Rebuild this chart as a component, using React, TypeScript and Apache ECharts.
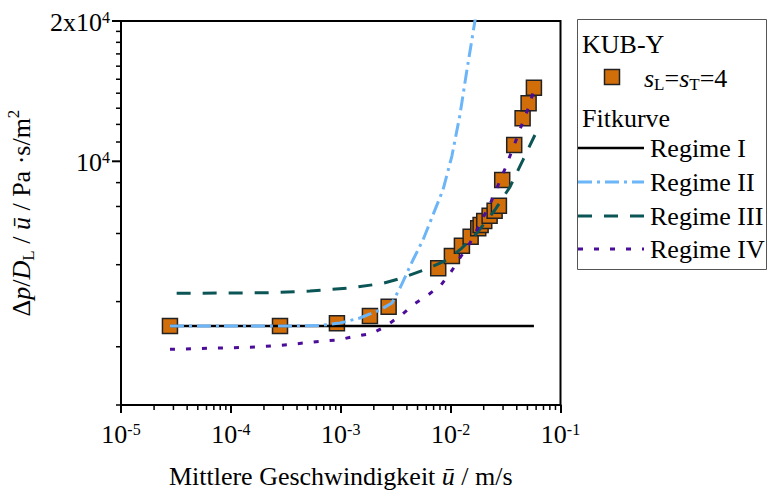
import React, { useEffect, useRef } from "react";
import * as echarts from "echarts";

const FONT = "Liberation Serif, Times New Roman, serif";

// Axis ranges
const X_MIN = 1e-5;
const X_MAX = 1e-1;
const Y_MIN = 3000;
const Y_MAX = 20000;

// Measured data: KUB-Y, sL = sT = 4
const velocity = [
  2.79e-5, 2.8e-4, 9.23e-4, 1.843e-3, 2.728e-3, 7.71e-3, 0.01027, 0.01267,
  0.01521, 0.01783, 0.01875, 0.02022, 0.02264, 0.02514, 0.02751, 0.02948,
  0.03791, 0.04519, 0.05126, 0.05728,
];
const pressure = [
  4431, 4431, 4492, 4656, 4875, 5893, 6262, 6590, 6890, 7182, 7299, 7445,
  7642, 7833, 8028, 9116, 10836, 12367, 13318, 14384,
];

// Fit curves
const regime1X = [2.79e-5, 0.0573];
const regime1Y = [4431, 4431];

const regime2X = [
  2.79e-5, 2.797e-4, 6.465e-4, 9.83e-4, 1.495e-3, 2.273e-3, 2.923e-3,
  3.457e-3, 4.54e-3, 5.6e-3, 6.9e-3, 8.51e-3, 0.01027, 0.01215, 0.01407,
  0.01664, 0.0175,
];
const regime2Y = [
  4431, 4431, 4441, 4497, 4611, 4796, 4965, 5346, 6140, 6776, 7668, 8677,
  10264, 12570, 15700, 20000, 21500,
];

const regime3X = [
  3.21e-5, 2.117e-4, 5.245e-4, 1.213e-3, 2.421e-3, 3.457e-3, 6.085e-3,
  9.25e-3, 0.01267, 0.01735, 0.0253, 0.03464, 0.04548, 0.0585,
];
const regime3Y = [
  5209, 5224, 5267, 5346, 5472, 5603, 5873, 6140, 6514, 7018, 7860, 8808,
  10062, 11388,
];

const regime4X = [
  2.79e-5, 1.657e-4, 3.308e-4, 6.74e-4, 9.43e-4, 1.291e-3, 1.923e-3,
  2.525e-3, 3.604e-3, 4.54e-3, 6.214e-3, 8.16e-3, 0.01006, 0.01215, 0.01498,
  0.01967, 0.02375, 0.03119, 0.04011, 0.04548, 0.0516, 0.05728,
];
const regime4Y = [
  3950, 3994, 4041, 4115, 4136, 4203, 4274, 4416, 4690, 4917, 5164, 5426,
  5786, 6201, 6676, 7556, 8259, 9625, 11220, 12160, 13097, 14220,
];

// Ticks
const xDecades = [1e-5, 1e-4, 1e-3, 1e-2];
const minorSteps = [2, 3, 4, 5, 6, 7, 8, 9];
const yMinorTicks = [
  3000, 4000, 5000, 6000, 7000, 8000, 9000, 11000, 12000, 13000, 14000,
  15000, 16000, 17000, 18000, 19000,
];
const yMajorTicks = [10000, 20000];
const yMajorLabels = ["{b|10}{s|4}", "{b|2x10}{s|4}"];

// Legend texts
const legendGroup1 = "KUB-Y";
const legendSeries = "{i|s}{sub|L}{n|=}{i|s}{sub|T}{n|=4}";
const legendGroup2 = "Fitkurve";
const regimeNames = ["Regime I", "Regime II", "Regime III", "Regime IV"];

const C_MARK = "#d26e0a";
const C_R1 = "#000000";
const C_R2 = "#6bb5f8";
const C_R3 = "#0b5556";
const C_R4 = "#4b0c9a";

const DASH_R2 = [14, 5, 3, 5];
const DASH_R3 = [14, 12];
const DASH_R4 = [5, 11];

const zip = (xs: number[], ys: number[]) => xs.map((x, i) => [x, ys[i]]);

const richTick = {
  b: { fontFamily: FONT, fontSize: 26, lineHeight: 26, color: "#000" },
  s: {
    fontFamily: FONT,
    fontSize: 16,
    lineHeight: 19,
    verticalAlign: "top",
    color: "#000",
  },
};

const richName = {
  n: { fontFamily: FONT, fontSize: 26, lineHeight: 32, color: "#000" },
  i: {
    fontFamily: FONT,
    fontSize: 26,
    lineHeight: 32,
    fontStyle: "italic",
    color: "#000",
  },
  sub: {
    fontFamily: FONT,
    fontSize: 17,
    lineHeight: 17,
    verticalAlign: "bottom",
    color: "#000",
  },
  sup: {
    fontFamily: FONT,
    fontSize: 17,
    lineHeight: 17,
    verticalAlign: "top",
    color: "#000",
  },
};

export default function App() {
  const ref = useRef<HTMLDivElement>(null);

  useEffect(() => {
    if (!ref.current) return;
    const chart = echarts.init(ref.current, null, { renderer: "svg" });

    const xMinorTicks = xDecades.flatMap((d) =>
      minorSteps.map((m) => +(m * d).toPrecision(3))
    );

    const lineSeries = (
      name: string,
      xs: number[],
      ys: number[],
      color: string,
      dash: any,
      width: number
    ) => ({
      type: "line",
      name,
      data: zip(xs, ys),
      showSymbol: false,
      symbol: "none",
      smooth: false,
      clip: true,
      lineStyle: { color, width, type: dash, cap: "butt" },
      z: 3,
    });

    const legendX = 577;
    const legendLineY = [148, 182, 216, 249];
    const legendColors = [C_R1, C_R2, C_R3, C_R4];
    const legendDash = [null, DASH_R2, DASH_R3, DASH_R4];
    const legendWidths = [2.5, 3, 3, 3];

    const graphic: any[] = [
      {
        type: "rect",
        shape: { x: 577.5, y: 19.5, width: 189, height: 250 },
        style: { fill: "#fff", stroke: "#555", lineWidth: 1 },
        z: 10,
      },
      {
        type: "text",
        x: 582,
        y: 44,
        style: {
          text: legendGroup1,
          fontFamily: FONT,
          fontSize: 26,
          fill: "#000",
          verticalAlign: "middle",
        },
        z: 11,
      },
      {
        type: "rect",
        shape: { x: 604.5, y: 69.5, width: 15, height: 15 },
        style: { fill: C_MARK, stroke: "#222", lineWidth: 1.5 },
        z: 11,
      },
      {
        type: "text",
        x: 644,
        y: 78,
        style: {
          text: legendSeries,
          fontFamily: FONT,
          fontSize: 26,
          fill: "#000",
          verticalAlign: "middle",
          rich: {
            n: { fontFamily: FONT, fontSize: 26, lineHeight: 30 },
            i: {
              fontFamily: FONT,
              fontSize: 26,
              lineHeight: 30,
              fontStyle: "italic",
            },
            sub: {
              fontFamily: FONT,
              fontSize: 17,
              lineHeight: 17,
              verticalAlign: "bottom",
            },
          },
        },
        z: 11,
      },
      {
        type: "text",
        x: 582,
        y: 118,
        style: {
          text: legendGroup2,
          fontFamily: FONT,
          fontSize: 26,
          fill: "#000",
          verticalAlign: "middle",
        },
        z: 11,
      },
    ];
    regimeNames.forEach((nm, k) => {
      graphic.push({
        type: "line",
        shape: {
          x1: legendX + 1,
          y1: legendLineY[k],
          x2: 644,
          y2: legendLineY[k],
        },
        style: {
          stroke: legendColors[k],
          lineWidth: legendWidths[k],
          lineDash: legendDash[k] || undefined,
        },
        z: 11,
      });
      graphic.push({
        type: "text",
        x: 650,
        y: legendLineY[k],
        style: {
          text: nm,
          fontFamily: FONT,
          fontSize: 26,
          fill: "#000",
          verticalAlign: "middle",
        },
        z: 11,
      });
    });

    const option: any = {
      animation: false,
      backgroundColor: "#ffffff",
      textStyle: { fontFamily: FONT },
      grid: {
        left: 121,
        top: 21,
        right: 208.5,
        bottom: 85,
        show: true,
        borderColor: "#000",
        borderWidth: 2,
        backgroundColor: "transparent",
        containLabel: false,
        outerBoundsMode: "none",
      },
      xAxis: {
        type: "log",
        logBase: 10,
        min: X_MIN,
        max: X_MAX,
        name: "{n|Mittlere Geschwindigkeit }{i|ū}{n| / m/s}",
        nameLocation: "middle",
        nameGap: 55,
        nameTextStyle: { fontFamily: FONT, fontSize: 26, color: "#000", rich: richName },
        axisLine: { show: true, lineStyle: { color: "#000", width: 2 } },
        axisTick: { show: true, inside: false, length: 8, lineStyle: { color: "#000", width: 2 } },
        minorTick: { show: false },
        splitLine: { show: false },
        axisLabel: {
          margin: 16,
          color: "#000",
          fontFamily: FONT,
          fontSize: 26,
          formatter: (v: number) => `{b|10}{s|${Math.round(Math.log10(v))}}`,
          rich: richTick,
        },
      },
      yAxis: {
        type: "log",
        logBase: 10,
        min: Y_MIN,
        max: Y_MAX,
        name: "{n|Δ}{i|p}{n|/}{i|D}{sub|L}{n| / }{i|ū}{n| / Pa ·s/m}{sup|2}",
        nameLocation: "middle",
        nameRotate: 90,
        nameGap: 84,
        nameTextStyle: { fontFamily: FONT, fontSize: 26, color: "#000", rich: richName },
        axisLine: { show: true, lineStyle: { color: "#000", width: 2 } },
        axisTick: { show: false },
        axisLabel: { show: false },
        splitLine: { show: false },
        minorTick: { show: false },
      },
      graphic,
      series: [
        {
          type: "scatter",
          name: "KUB-Y",
          data: zip(velocity, pressure),
          symbol: "rect",
          symbolSize: 15,
          itemStyle: { color: C_MARK, borderColor: "#222", borderWidth: 1.5, opacity: 1 },
          z: 2,
        },
        lineSeries("Regime I", regime1X, regime1Y, C_R1, "solid", 2.5),
        lineSeries("Regime II", regime2X, regime2Y, C_R2, DASH_R2, 3),
        lineSeries("Regime III", regime3X, regime3Y, C_R3, DASH_R3, 3),
        lineSeries("Regime IV", regime4X, regime4Y, C_R4, DASH_R4, 3),
        {
          type: "custom",
          name: "xMinorTicks",
          coordinateSystem: "cartesian2d",
          silent: true,
          clip: false,
          z: 5,
          data: xMinorTicks.map((v) => [v, Y_MIN]),
          renderItem: (_p: any, api: any) => {
            const p = api.coord([api.value(0), api.value(1)]);
            return {
              type: "line",
              shape: { x1: p[0], y1: p[1], x2: p[0], y2: p[1] + 5 },
              style: { stroke: "#000", lineWidth: 1.5 },
            };
          },
        },
        {
          type: "custom",
          name: "yMinorTicks",
          coordinateSystem: "cartesian2d",
          silent: true,
          clip: false,
          z: 5,
          data: yMinorTicks.map((v) => [X_MIN, v]),
          renderItem: (_p: any, api: any) => {
            const p = api.coord([api.value(0), api.value(1)]);
            return {
              type: "line",
              shape: { x1: p[0] - 5, y1: p[1], x2: p[0], y2: p[1] },
              style: { stroke: "#000", lineWidth: 1.5 },
            };
          },
        },
        {
          type: "custom",
          name: "yMajorTicks",
          coordinateSystem: "cartesian2d",
          silent: true,
          clip: false,
          z: 5,
          data: yMajorTicks.map((v) => [X_MIN, v]),
          renderItem: (params: any, api: any) => {
            const p = api.coord([api.value(0), api.value(1)]);
            return {
              type: "group",
              children: [
                {
                  type: "line",
                  shape: { x1: p[0] - 9, y1: p[1], x2: p[0], y2: p[1] },
                  style: { stroke: "#000", lineWidth: 2 },
                },
                {
                  type: "text",
                  x: p[0] - 11,
                  y: p[1] + 1,
                  style: {
                    text: yMajorLabels[params.dataIndex],
                    align: "right",
                    verticalAlign: "middle",
                    fontFamily: FONT,
                    fontSize: 26,
                    fill: "#000",
                    rich: richTick,
                  },
                },
              ],
            };
          },
        },
      ],
    };

    chart.setOption(option);
    return () => chart.dispose();
  }, []);

  return (
    <div
      ref={ref}
      style={{
        position: "absolute",
        left: 0,
        top: 0,
        width: 769,
        height: 490,
        background: "#fff",
      }}
    />
  );
}
